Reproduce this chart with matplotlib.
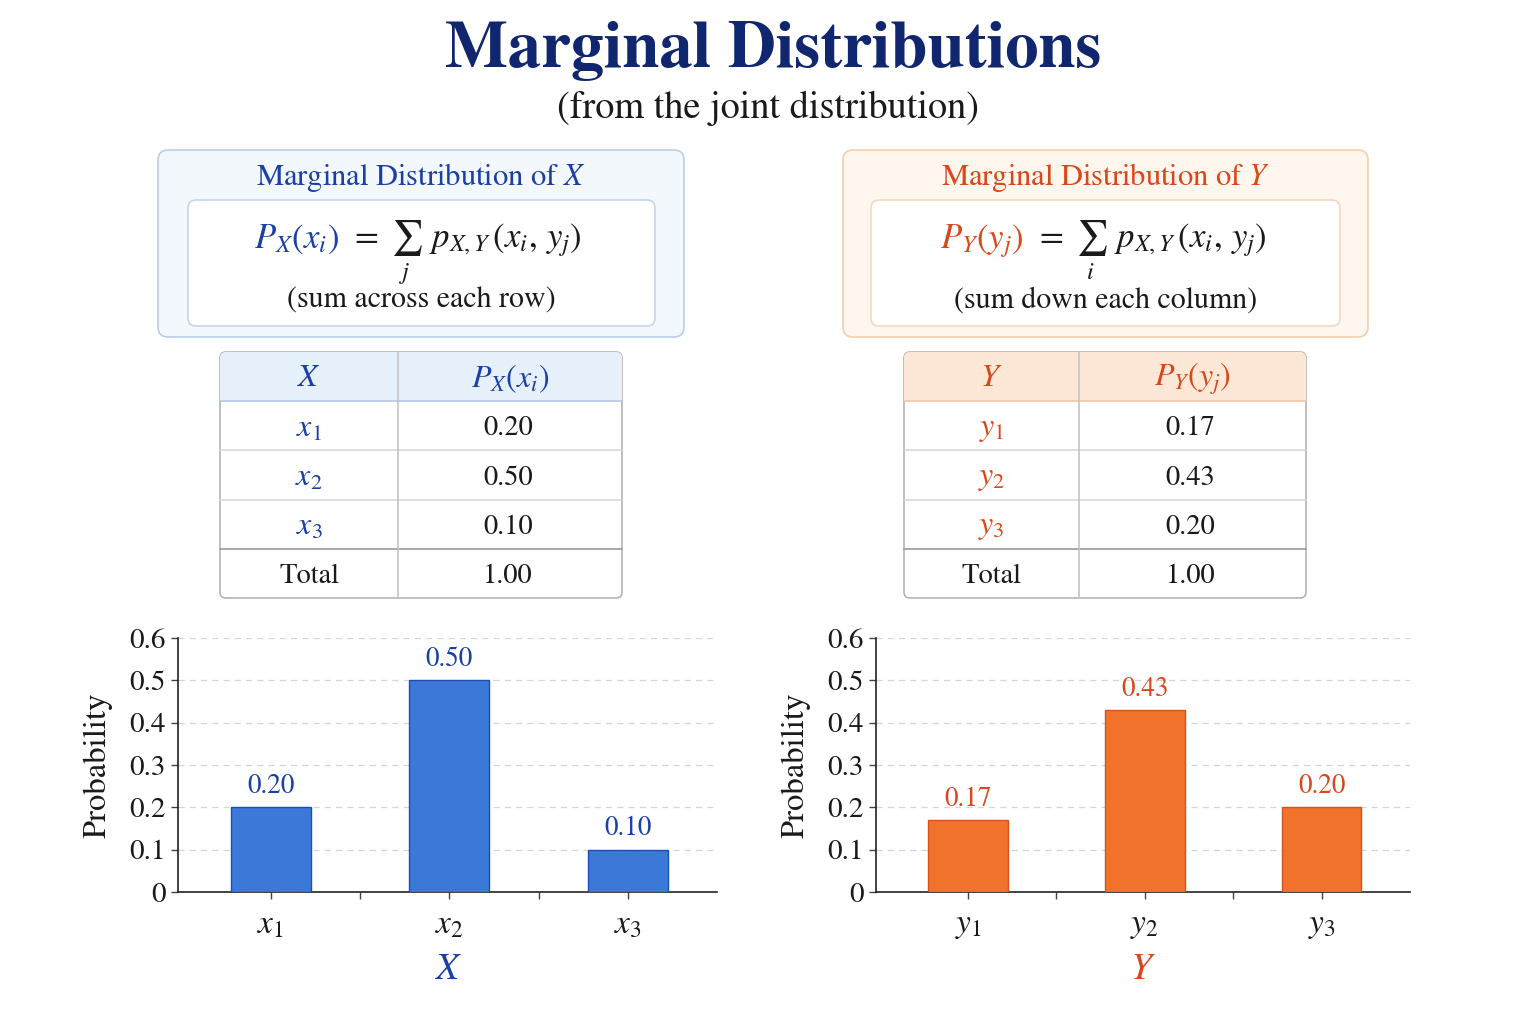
import numpy as np
import matplotlib
matplotlib.use("Agg")
import matplotlib.pyplot as plt
from matplotlib.patches import FancyBboxPatch, Rectangle

plt.rcParams['font.family'] = ['STIXGeneral', 'DejaVu Serif']
plt.rcParams['mathtext.fontset'] = 'stix'

# data
x_cats = ['$x_1$', '$x_2$', '$x_3$']
px = [0.20, 0.50, 0.10]
px_total = 1.00
y_cats = ['$y_1$', '$y_2$', '$y_3$']
py = [0.17, 0.43, 0.20]
py_total = 1.00
yticks = [0, 0.1, 0.2, 0.3, 0.4, 0.5, 0.6]
ytick_labels = ['0', '0.1', '0.2', '0.3', '0.4', '0.5', '0.6']

navy = '#10266e'
blue_txt = '#1b3fa6'
orange_txt = '#d9471a'

fig = plt.figure(figsize=(15.36, 10.24), dpi=100)
fig.patch.set_facecolor('white')

# background axes in pixel coords (y down)
bg = fig.add_axes([0, 0, 1, 1], zorder=0)
bg.set_xlim(0, 1536)
bg.set_ylim(1024, 0)
bg.axis('off')

bg.text(773, 51, 'Marginal Distributions', ha='center', va='center',
        fontsize=48, fontweight='bold', color=navy)
bg.text(768, 108, '(from the joint distribution)', ha='center', va='center',
        fontsize=27.5, color='#1a1a1a')


def rbox(x0, y0, x1, y1, fc, ec, r=8, lw=1.2):
    p = FancyBboxPatch((x0, y0), x1 - x0, y1 - y0,
                       boxstyle="round,pad=0,rounding_size=%d" % r,
                       fc=fc, ec=ec, lw=lw)
    bg.add_patch(p)
    return p


def panel(x0, x1, inner0, inner1, fc, ec, iec, color, var, lhs, sumidx, note):
    rbox(x0, 150, x1, 337, fc, ec, r=10)
    rbox(inner0, 200, inner1, 326, 'white', iec, r=8)
    cx = (x0 + x1) / 2
    bg.text(cx, 177, 'Marginal Distribution of $%s$' % var, ha='center',
            va='center', fontsize=22, color=color)
    split = cx - 82
    bg.text(split, 248, lhs, ha='right', va='baseline', fontsize=25, color=color)
    bg.text(split + 10, 248, r'$=\ \sum_{%s}\ \,p_{X,Y}\,(x_i,\, y_j)$' % sumidx,
            ha='left', va='baseline', fontsize=25, color='#1a1a1a')
    bg.text(cx, 301, note, ha='center', va='center', fontsize=21.5, color='#1a1a1a')


panel(158, 684, 188, 655, '#f3f8fd', '#b9cfe7', '#c6d6ea', blue_txt, 'X',
      r'$P_X(x_i)$', 'j', '(sum across each row)')
panel(843, 1368, 871, 1340, '#fff6ee', '#f4cfad', '#f2d8c2', orange_txt, 'Y',
      r'$P_Y(y_j)$', 'i', '(sum down each column)')


def table(x0, xd, x1, hfc, hline, color, var, head, cats, vals, total):
    top, rh = 352, 49.2
    bot = top + 5 * rh
    outer = rbox(x0, top, x1, bot, 'white', '#b4b4b4', r=6, lw=1.2)
    hdr = Rectangle((x0, top), x1 - x0, rh, fc=hfc, ec='none')
    bg.add_patch(hdr)
    hdr.set_clip_path(outer)
    bg.plot([x0, x1], [top + rh, top + rh], color=hline, lw=1.2)
    for k in range(2, 4):
        bg.plot([x0, x1], [top + k * rh, top + k * rh], color='#d4d4d4', lw=1.1)
    bg.plot([x0, x1], [top + 4 * rh, top + 4 * rh], color='#9a9a9a', lw=1.2)
    bg.plot([xd, xd], [top, bot], color='#c4c4c4', lw=1.2)
    c1, c2 = (x0 + xd) / 2, (xd + x1) / 2
    bg.text(c1, top + rh / 2 + 2, '$%s$' % var, ha='center', va='center',
            fontsize=23, color=color)
    bg.text(c2, top + rh / 2 + 2, head, ha='center', va='center', fontsize=23, color=color)
    for k, (c, v) in enumerate(zip(cats, vals)):
        yc = top + (k + 1.5) * rh
        bg.text(c1, yc + 3, c, ha='center', va='center', fontsize=23, color=color)
        bg.text(c2 - 2, yc + 3, '%.2f' % v, ha='center', va='center', fontsize=20.5,
                color='#1a1a1a')
    yc = top + 4.5 * rh
    bg.text(c1, yc + 3, 'Total', ha='center', va='center', fontsize=20.5, color='#1a1a1a')
    bg.text(c2 - 2, yc + 3, '%.2f' % total, ha='center', va='center', fontsize=20.5,
            color='#1a1a1a')


table(220, 398, 622, '#e6f0fb', '#b5c9e2', blue_txt, 'X', r'$P_X(x_i)$',
      x_cats, px, px_total)
table(904, 1079, 1306, '#fde8d7', '#efc6a6', orange_txt, 'Y', r'$P_Y(y_j)$',
      y_cats, py, py_total)


def bars(rect, cats, vals, fc, ec, tcol, var):
    ax = fig.add_axes(rect, zorder=2)
    xs = np.arange(len(cats))
    ax.bar(xs, vals, width=0.45, color=fc, edgecolor=ec, linewidth=1.0, zorder=3)
    for x, v in zip(xs, vals):
        ax.annotate('%.2f' % v, (x, v), xytext=(0, 6), textcoords='offset points',
                    ha='center', va='bottom', fontsize=19.5, color=tcol)
    ax.set_xlim(-0.52, 2.5)
    ax.set_ylim(0, 0.6)
    ax.set_yticks(yticks)
    ax.set_yticklabels(ytick_labels, fontsize=21, color='#1a1a1a')
    ax.set_xticks(xs)
    ax.set_xticklabels(cats, fontsize=24, color='#1a1a1a')
    ax.set_xticks([0.5, 1.5], minor=True)
    ax.tick_params(axis='x', which='both', length=5, width=1, color='#444', pad=9)
    ax.tick_params(axis='y', length=5, width=1, color='#444', pad=4)
    for y in yticks[1:]:
        ax.axhline(y, color='#d6d6d6', lw=0.9, ls=(0, (5, 4)), zorder=1)
    for s in ['top', 'right']:
        ax.spines[s].set_visible(False)
    for s in ['left', 'bottom']:
        ax.spines[s].set_color('#222')
        ax.spines[s].set_linewidth(1.2)
    ax.set_ylabel('Probability', fontsize=23.5, color='#1a1a1a', labelpad=12)
    ax.set_xlabel('$%s$' % var, fontsize=27, color=tcol, labelpad=8)
    return ax


bars([178 / 1536, 1 - 892 / 1024, (717 - 178) / 1536, (892 - 638) / 1024],
     x_cats, px, '#3b78d8', '#1d4fb3', blue_txt, 'X')
bars([876 / 1536, 1 - 892 / 1024, (1410 - 876) / 1536, (892 - 638) / 1024],
     y_cats, py, '#f0722b', '#d4541a', orange_txt, 'Y')

fig.savefig('out.png', dpi=100, facecolor='white')
